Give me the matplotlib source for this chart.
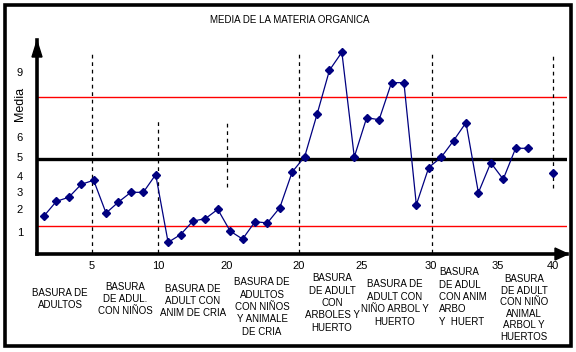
import numpy as np
import matplotlib
matplotlib.use("Agg")
import matplotlib.pyplot as plt
from matplotlib.patches import Polygon, Rectangle

plt.rcParams['font.family'] = ['Liberation Sans Narrow', 'Liberation Sans', 'DejaVu Sans']

# medias por muestra (1..42), la 41 falta
muestra = np.arange(1, 43)
media = [1.65, 2.51, 2.75, 3.51, 3.75, 1.82, 2.47, 3.04, 3.04, 4.08,
         0.10, 0.55, 1.35, 1.49, 2.04, 0.76, 0.29, 1.31, 1.24, 2.14,
         4.24, 5.13, 7.63, 10.22, 11.28, 5.12, 7.43, 7.31, 9.49, 9.49,
         2.31, 4.50, 5.10, 6.08, 7.14, 3.02, 4.78, 3.81, 5.63, 5.63,
         np.nan, 4.18]

# etiquetas del eje (tal como aparecen en el grafico)
xtick_pos = [4.87, 10.19, 15.75, 21.55, 26.6, 32.2, 37.6, 42.0]
xtick_lab = ['5', '10', '20', '20', '25', '30', '35', '40']
ytick_pos = [0.7, 2.06, 3.06, 4.02, 5.1, 6.3, 10.1]
ytick_lab = ['1', '2', '3', '4', '5', '6', '9']

# lineas de referencia
linea_media = 5.0
linea_sup = 8.65
linea_inf = 1.06

# separadores de grupos (x, y inicio, y fin)
sep_x = [4.87, 10.19, 15.75, 21.55, 32.27, 42.02]
sep_y0 = [-0.5, -0.5, 3.35, -0.5, -0.5, 3.29]
sep_y1 = [11.18, 7.41, 7.29, 11.18, 11.18, 11.24]
sep_hueco = [None, None, None, None, None, (7.29, 3.9)]

grupos = ["BASURA DE\nADULTOS",
          "BASURA\nDE ADUL.\nCON NIÑOS",
          "BASURA DE\nADULT CON\nANIM DE CRIA",
          "BASURA DE\nADULTOS\nCON NIÑOS\nY ANIMALE\nDE CRIA",
          "BASURA\nDE ADULT\nCON\nARBOLES Y\nHUERTO",
          "BASURA DE\nADULT CON\nNIÑO ARBOL Y\nHUERTO",
          "BASURA\nDE ADUL\nCON ANIM\nARBO\nY  HUERT",
          "BASURA\nDE ADULT\nCON NIÑO\nANIMAL\nARBOL Y\nHUERTOS"]
grupo_x = [2.29, 7.53, 13.0, 18.57, 24.21, 29.28, 32.83, 39.7]
grupo_py = [299, 299, 301, 307, 303, 303, 297, 308]
grupo_ha = ['center'] * 6 + ['left', 'center']
grupo_ls = [1.3] * 7 + [1.18]

W, H = 576, 352
fig = plt.figure(figsize=(W / 100, H / 100), dpi=100)
ax = fig.add_axes([37 / W, 1 - 254 / H, (567 - 37) / W, (254 - 40) / H])
ax.set_xlim(0.436, 43.14)
ax.set_ylim(-0.588, 12.0)

ax.axhline(linea_sup, color='#ff0000', lw=1.0)
ax.axhline(linea_inf, color='#ff0000', lw=1.0)
ax.axhline(linea_media, color='black', lw=2.4)

for x, a, b, hueco in zip(sep_x, sep_y0, sep_y1, sep_hueco):
    if hueco is None:
        ax.plot([x, x], [a, b], color='black', lw=0.9, ls=(0, (3, 3)))
    else:
        ax.plot([x, x], [hueco[0], b], color='black', lw=0.9, ls=(0, (3, 3)))
        ax.plot([x, x], [a, a + 3.79], color='black', lw=0.9, ls=(0, (3, 3)))

ax.plot(muestra, media, color='#000080', lw=0.9, marker='D', ms=4.2,
        mfc='#000080', mec='#000080')

for s in ['top', 'right']:
    ax.spines[s].set_visible(False)
ax.spines['left'].set_linewidth(2.6)
ax.spines['bottom'].set_linewidth(2.6)

ax.set_xticks(xtick_pos)
ax.set_xticklabels(xtick_lab, fontsize=8)
ax.set_yticks(ytick_pos)
ax.set_yticklabels(ytick_lab, fontsize=8)
ax.tick_params(axis='x', length=0, pad=5)
ax.tick_params(axis='y', length=0, pad=10)

trans = ax.get_xaxis_transform()
for txt, x, py, ha, ls in zip(grupos, grupo_x, grupo_py, grupo_ha, grupo_ls):
    ax.text(x, (254 - py) / 214, txt, transform=trans, ha=ha, va='center',
            fontsize=7, linespacing=ls, multialignment=ha, clip_on=False)

fig.text(290 / W, 1 - 20 / H, "MEDIA DE LA MATERIA ORGANICA",
         ha='center', va='center', fontsize=7)
fig.text(20 / W, 1 - 104 / H, "Media", rotation=90, ha='center',
         va='center', fontsize=9)

# flechas de los ejes
fig.add_artist(Polygon([[37 / W, 1 - 41 / H], [32 / W, 1 - 57 / H], [42 / W, 1 - 57 / H]],
                       closed=True, color='black', transform=fig.transFigure))
fig.add_artist(Polygon([[568 / W, 1 - 254 / H], [555 / W, 1 - 248 / H], [555 / W, 1 - 260 / H]],
                       closed=True, color='black', transform=fig.transFigure))

# marco exterior
fig.add_artist(Rectangle((5 / W, 1 - 346 / H), 566 / W, 341 / H, fill=False,
                         lw=2.6, ec='black', transform=fig.transFigure))

fig.savefig("out.png", dpi=100)
